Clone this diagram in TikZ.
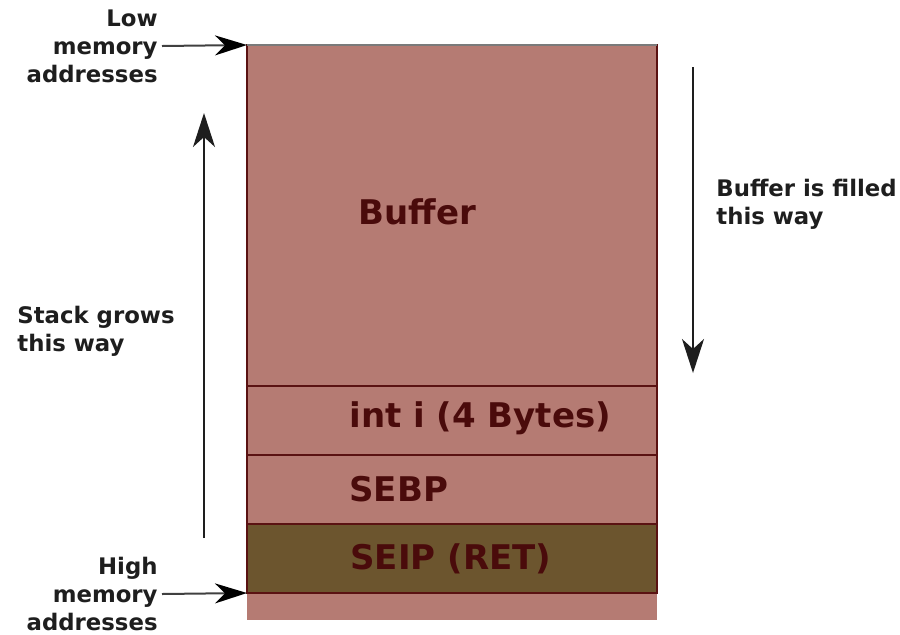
\documentclass[tikz,border=0pt]{standalone}
\usepackage{fontspec}
\setmainfont{DejaVu Sans}
\usetikzlibrary{arrows.meta}
\definecolor{cellpink}{HTML}{B57B73}
\definecolor{cellolive}{HTML}{6C552E}
\definecolor{cellrule}{HTML}{5A1212}
\definecolor{celltext}{HTML}{4A0B0B}
\definecolor{toprule}{HTML}{7A7A7A}
\definecolor{labeltext}{HTML}{1E1E1E}
\tikzset{
  cell/.style={rectangle, draw=cellrule, line width=0.8pt, fill=cellpink,
    minimum width=205pt, inner sep=0pt, outer sep=0pt},
  celllabel/.style={anchor=west, inner sep=0pt, text=celltext,
    font=\fontsize{17}{20}\selectfont\bfseries},
  sidelabel/.style={inner sep=2pt, text=labeltext,
    font=\fontsize{11.4}{14}\selectfont\bfseries},
  pointer/.style={draw=labeltext, line width=1pt,
    -{Stealth[length=17pt, width=11pt, inset=5pt]}},
  hpointer/.style={draw=black!75, line width=1pt,
    -{Stealth[length=16pt, width=10pt, inset=5pt, color=black]}}
}
\begin{document}
\begin{tikzpicture}[x=0.5pt, y=-0.5pt]
  \useasboundingbox (0,0) rectangle (900,634);

  % stack frame cells, top to bottom
  \fill[cellpink] (247,593) rectangle (657,620);
  \node[cell, minimum height=170.5pt, anchor=north west] (buf) at (247,45) {};
  \node[cell, minimum height=34.5pt, anchor=north west] (inti) at (247,386) {};
  \node[cell, minimum height=34.5pt, anchor=north west] (sebp) at (247,455) {};
  \node[cell, minimum height=34.5pt, anchor=north west, fill=cellolive] (seip) at (247,524) {};
  \draw[toprule, line width=1.2pt] (buf.north west) -- (buf.north east);

  % cell contents
  \node[celllabel] (buftext) at (358,212) {Buffer};
  \node[celllabel] (intitext) at (349,418) {int i (4 Bytes)};
  \node[celllabel] (sebptext) at (349,489) {SEBP};
  \node[celllabel] (seiptext) at (350,559) {SEIP (RET)};

  % address labels
  \node[sidelabel, align=right, anchor=east] (low) at (162,46) {Low\\memory\\addresses};
  \node[sidelabel, align=right, anchor=east] (high) at (162,594) {High\\memory\\addresses};
  \draw[hpointer] (low.east) -- (buf.north west);
  \draw[hpointer] (high.east) -- (seip.south west);

  % direction of growth and filling
  \node[sidelabel, align=left, anchor=west] (grow) at (13,331) {Stack grows\\this way};
  \node[sidelabel, align=left, anchor=west] (fill) at (712,204) {Buffer is filled\\this way};
  \coordinate (growfrom) at (204,538);
  \coordinate (growto) at (204,113);
  \coordinate (fillfrom) at (693,67);
  \coordinate (fillto) at (693,373);
  \draw[pointer] (growfrom) -- (growto);
  \draw[pointer] (fillfrom) -- (fillto);
\end{tikzpicture}
\end{document}
